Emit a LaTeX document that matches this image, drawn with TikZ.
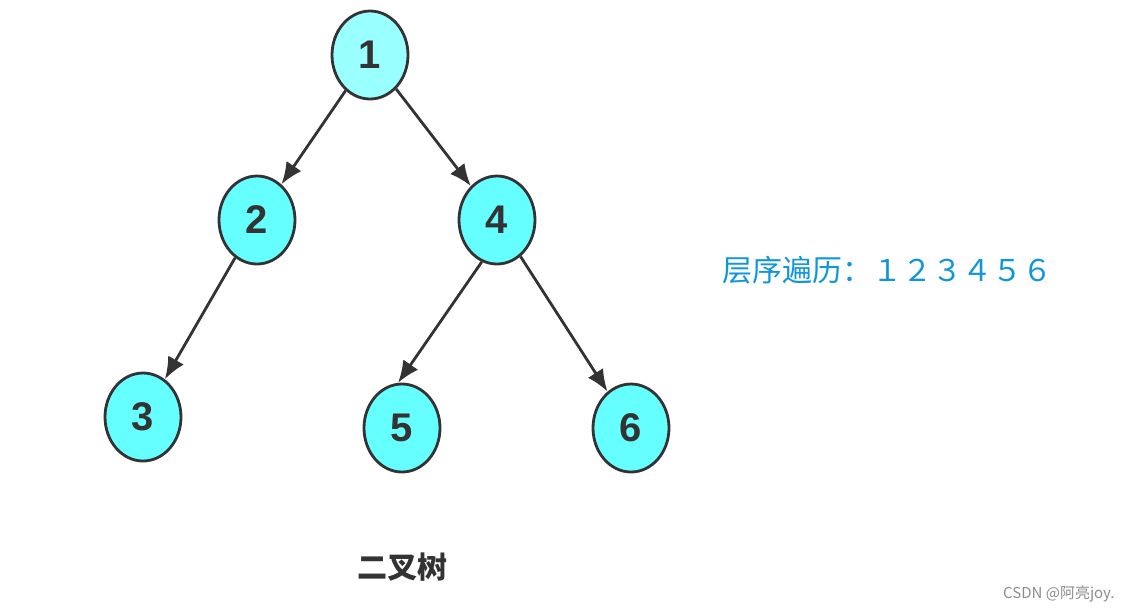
\documentclass[tikz,border=0pt]{standalone}
\usepackage{fontspec}
\setmainfont{Liberation Sans}
\newfontfamily\cjk{Noto Sans CJK SC}
\usepackage{tikz}
\usetikzlibrary{arrows.meta,shapes.geometric}

\definecolor{nodecyan}{RGB}{102,255,255}
\definecolor{rootcyan}{RGB}{153,255,255}
\definecolor{darkline}{RGB}{51,51,51}
\definecolor{travblue}{RGB}{18,150,219}

\begin{document}
\begin{tikzpicture}[x=0.5pt, y=-0.5pt, >={Latex[length=11pt,width=9pt]},
	treenode/.style={ellipse, draw=darkline, line width=1.4pt, fill=nodecyan, inner sep=0pt, minimum width=38pt, minimum height=44pt, text=darkline, font=\fontsize{20}{24}\selectfont\bfseries},
	treeedge/.style={->, line width=1.4pt, draw=darkline, fill=darkline}]
	\useasboundingbox (0,0) rectangle (1129,612);
	\node[treenode, fill=rootcyan] (n1) at (370,55) {1};
	\node[treenode] (n2) at (257,220) {2};
	\node[treenode] (n4) at (497,220) {4};
	\node[treenode] (n3) at (143,417) {3};
	\node[treenode] (n5) at (402,428) {5};
	\node[treenode] (n6) at (631,428) {6};
	\draw[treeedge] (n1) -- (n2);
	\draw[treeedge] (n1) -- (n4);
	\draw[treeedge] (n2) -- (n3);
	\draw[treeedge] (n4.250) -- (n5.95);
	\draw[treeedge] (n4) -- (n6);
	\node[anchor=west, inner sep=0pt, text=travblue, font=\cjk\fontsize{15}{18}\selectfont] (order) at (722,270) {层序遍历：１２３４５６};
	\node[inner sep=0pt, text=darkline, font=\cjk\fontsize{15}{18}\selectfont\bfseries] (caption) at (402,567) {二叉树};
	\node[anchor=east, inner sep=0pt, text=black!45, font=\cjk\fontsize{7.5}{9}\selectfont] (mark) at (1115,594) {CSDN @阿亮joy.};
\end{tikzpicture}
\end{document}
